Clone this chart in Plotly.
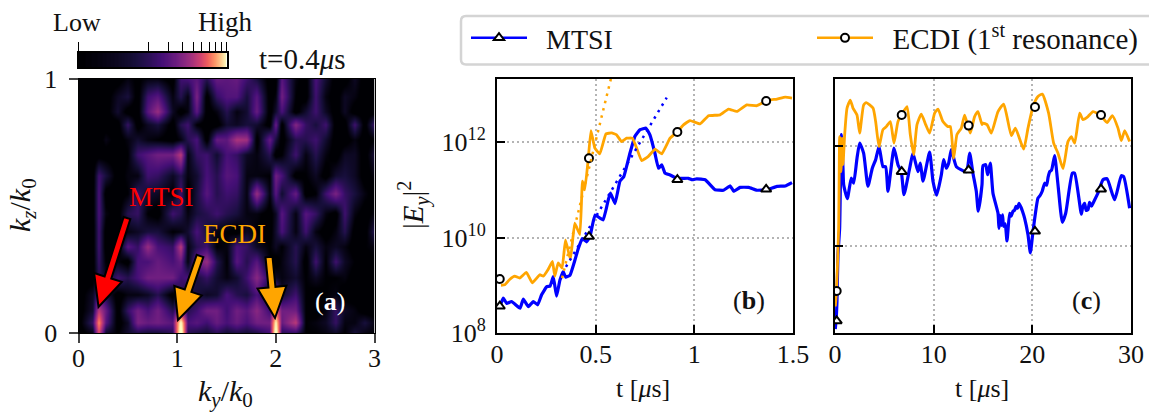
import numpy as np
import plotly.graph_objects as go

W, H = 1149, 413
FONT = "Liberation Serif"
BLUE = "#0000ff"
ORANGE = "#ffa500"
GRID = "#b4b4b4"

# ---------- panel (a) spectrum: percent of colour range, rows top to bottom ----------
ky_grid = [0,.14,.2,.27,.4,.5,.6,.7,.8,.95,1.03,1.1,1.2,1.3,1.4,1.5,1.6,1.7,1.8,1.94,2.0,2.06,2.2,2.3,2.4,2.5,2.6,2.7,2.8,2.9,3.0]
kz_grid = [1.0, .93, .87, .82, .76, .70, .62, .55, .47, .40, .34, .28, .22, .15, .09, .04, 0.0]
spec_100 = [0,0,0,0,0,5,2,5,5,0,20,22,25,15,28,26,28,20,12,0,0,25,5,0,22,10,0,0,8,0,0]
spec_093 = [0,0,0,0,8,12,0,20,25,5,15,5,32,0,18,24,24,12,25,0,5,30,3,0,20,5,0,8,5,0,0]
spec_087 = [0,0,0,0,10,0,0,25,38,8,0,5,26,0,5,15,5,10,28,0,10,22,0,10,20,8,0,8,0,0,0]
spec_082 = [0,0,0,0,0,18,0,8,12,0,15,20,3,0,0,10,8,12,10,0,28,0,34,18,12,20,0,0,20,0,20]
spec_076 = [0,0,0,6,0,5,10,5,3,0,5,15,22,0,28,26,42,40,0,28,12,0,15,15,20,10,0,0,5,0,3]
spec_070 = [0,0,0,0,0,3,20,25,30,30,45,5,18,20,10,22,18,8,5,15,0,3,20,5,15,5,0,8,8,0,12]
spec_062 = [0,0,20,12,0,5,5,20,18,8,15,5,10,22,15,25,22,5,5,3,30,22,0,3,8,0,10,12,8,0,5]
spec_055 = [0,0,22,0,0,3,18,10,8,3,20,0,12,25,15,20,18,5,38,5,25,10,28,0,3,20,32,18,12,5,0]
spec_047 = [0,0,22,5,0,15,18,3,0,20,15,5,12,15,20,15,12,5,5,0,8,25,5,25,18,5,0,20,5,0,5]
spec_040 = [0,0,20,0,0,5,8,12,12,3,5,10,22,12,5,3,0,8,3,0,10,22,5,20,5,0,5,15,0,0,15]
spec_034 = [0,0,20,0,0,25,18,38,22,18,45,5,15,20,3,5,22,18,8,3,8,3,15,5,12,5,8,5,0,3,5]
spec_028 = [0,0,18,3,5,0,22,22,28,22,28,5,28,38,15,3,25,15,25,3,0,5,15,0,20,3,20,8,3,0,3]
spec_022 = [0,0,15,8,20,15,22,30,30,30,20,22,12,18,10,5,10,20,35,15,8,5,10,3,8,3,3,5,0,0,0]
spec_015 = [0,8,22,12,0,5,5,8,15,0,15,10,12,8,10,22,15,12,22,5,35,10,20,3,0,3,5,0,0,0,0]
spec_009 = [0,10,45,28,0,18,30,22,30,15,35,15,20,30,30,20,30,25,35,20,55,30,30,3,0,5,18,8,5,0,0]
spec_004 = [0,18,65,25,0,8,32,28,30,25,90,22,25,20,28,22,28,22,30,30,85,28,45,3,5,8,18,5,5,12,5]
spec_000 = [0,5,50,8,3,10,12,10,10,15,100,15,12,10,15,10,12,10,12,20,100,15,15,3,3,5,8,3,12,5,3]
spec_rows = [spec_100, spec_093, spec_087, spec_082, spec_076, spec_070, spec_062, spec_055, spec_047,
             spec_040, spec_034, spec_028, spec_022, spec_015, spec_009, spec_004, spec_000]

# ---------- panel (b): log10 |E_y|^2 ----------
b_mtsi_t = [.010,.020,.032,.049,.074,.117,.133,.159,.184,.206,.226,.252,.269,.285,.302,.319,.336,.348,.370,.395,.412,.432,
            .454,.471,.497,.538,.564,.575,.598,.623,.643,.674,.699,.725,.755,.775,.80,.818,.835,.851,.877,.911,.945,.97,
            .99,1.012,1.055,1.105,1.148,1.182,1.199,1.232,1.275,1.317,1.368,1.419,1.461,1.495]
b_mtsi_e = [8.55,8.62,8.73,8.62,8.66,8.52,8.71,8.55,8.66,8.59,8.80,8.97,8.98,9.18,8.77,9.11,9.28,9.17,9.21,9.53,9.77,9.98,
            9.91,10.02,10.47,10.37,10.79,10.93,10.71,11.18,11.28,11.77,12.12,12.26,12.29,12.15,11.77,11.45,11.52,11.35,
            11.31,11.24,11.24,11.24,11.21,11.23,11.21,11.0,10.99,11.08,10.97,11.05,11.05,10.99,11.0,11.07,11.08,11.15]
b_ecdi_t = [.020,.039,.064,.090,.115,.149,.179,.217,.234,.259,.281,.293,.310,.330,.347,.372,.394,.420,.433,.445,.462,.476,.496,
            .521,.552,.581,.606,.631,.657,.686,.708,.733,.767,.801,.835,.877,.914,.945,.978,1.029,1.072,1.131,1.173,1.215,
            1.266,1.317,1.368,1.419,1.461,1.495]
b_ecdi_e = [9.0,9.01,9.12,9.19,9.15,9.27,9.05,9.22,9.19,9.33,9.50,9.19,9.47,9.36,9.95,9.54,10.30,10.06,11.18,11.0,11.63,12.24,
            11.87,11.75,12.17,12.19,12.15,12.01,12.08,12.08,11.87,11.61,11.70,11.85,11.75,12.08,12.21,12.36,12.45,12.38,12.55,
            12.57,12.69,12.64,12.78,12.76,12.87,12.90,12.94,12.92]
b_fit_mtsi_t = [.33, .86]
b_fit_mtsi_e = [9.25, 12.93]
b_fit_ecdi_t = [.33, .58]
b_fit_ecdi_e = [9.15, 13.37]
b_mark_t = [.014, .466, .914, 1.364]
b_mark_mtsi = [8.56, 10.02, 11.21, 11.01]
b_mark_ecdi = [9.13, 11.66, 12.21, 12.86]

# ---------- panel (c): log10 |E_y|^2 ----------
c_mtsi_t = [.03,.12,.20,.30,.47,.64,.81,.88,1.25,1.65,1.89,2.23,2.50,2.90,3.34,3.78,4.12,4.46,4.86,5.13,5.37,5.98,6.38,6.72,6.99,
            7.57,7.90,8.41,8.65,8.92,9.59,9.93,10.30,10.78,11.01,11.28,11.52,11.79,12.30,13.31,13.65,13.98,14.32,14.52,14.90,
            15.0,15.27,15.47,15.74,16.01,16.52,16.62,16.72,16.86,16.98,17.09,17.25,17.43,17.70,17.85,18.04,18.2,18.35,18.5,18.65,
            18.85,19.0,19.22,19.56,19.80,20.07,20.57,20.8,21.0,21.25,21.45,21.6,21.76,21.95,22.26,22.60,23.04,23.38,24.05,24.29,
            24.97,25.1,25.30,25.45,25.64,25.8,26.0,26.15,26.65,27.16,27.57,28.34,29.02,29.26,29.86]
c_mtsi_e = [8.35,8.55,8.9,9.83,10.36,12.23,11.56,11.23,10.95,11.36,11.26,11.76,12.06,11.86,11.20,11.56,11.73,11.99,11.59,11.59,
            11.10,11.96,11.63,11.49,11.03,11.56,11.86,11.49,11.66,11.30,11.88,11.30,11.02,11.43,11.73,11.56,11.66,11.93,11.59,
            11.49,11.86,11.46,11.10,10.70,11.23,11.61,11.63,11.43,11.66,11.06,10.66,10.36,10.62,10.42,10.63,10.40,10.45,10.11,
            10.66,10.60,10.70,10.72,10.80,10.76,10.86,10.78,10.70,10.56,10.23,9.87,10.30,10.96,11.02,11.10,11.26,11.22,11.38,
            11.49,11.52,11.81,11.23,10.48,10.66,11.46,11.46,10.64,10.78,10.86,10.72,10.73,10.88,10.80,10.86,11.06,11.33,11.35,
            10.93,11.41,11.39,10.76]
c_ecdi_t = [.03,.15,.37,.47,.61,.71,.81,.98,1.22,1.55,1.82,2.23,2.50,2.90,3.17,3.85,4.12,4.46,4.86,5.20,5.61,5.98,6.38,6.72,7.30,
            7.63,7.97,8.31,8.75,9.19,9.59,10.10,10.44,10.94,11.45,11.69,12.03,12.36,12.80,13.14,13.71,14.15,14.49,14.90,15.0,
            15.41,15.84,16.52,17.09,17.43,17.87,18.28,19.12,19.56,20.07,20.57,21.01,21.65,22.16,22.60,23.11,23.61,23.95,24.29,
            24.80,25.13,25.64,26.15,26.89,27.57,28.11,28.68,29.02,29.36,29.86]
c_ecdi_e = [8.8,9.1,10.36,12.19,11.49,12.16,11.63,12.23,12.76,12.92,12.76,12.62,12.26,12.82,12.87,12.76,12.49,11.99,12.33,12.39,
            12.49,12.06,12.49,12.62,12.79,12.23,11.83,12.43,12.64,12.43,12.26,12.66,12.74,12.49,12.39,12.39,11.76,12.23,12.36,
            12.62,12.26,12.59,12.69,12.43,12.46,12.43,12.26,12.69,12.84,12.59,12.21,12.36,11.94,12.36,12.79,12.99,13.04,12.66,
            12.06,11.86,11.55,12.09,12.19,12.06,12.66,12.53,12.59,12.69,12.62,12.47,12.61,12.36,12.11,12.31,12.09]
c_mark_t = [.17, 6.76, 13.54, 20.27, 26.96]
c_mark_mtsi = [8.51, 11.49, 11.52, 10.30, 11.14]
c_mark_ecdi = [9.11, 12.62, 12.41, 12.78, 12.62]

# ---------- labels ----------
y_tick_vals = [1e8, 1e10, 1e12]
y_tick_text = ["10<sup>8</sup>", "10<sup>10</sup>", "10<sup>12</sup>"]
cb_tick_vals = [4.7, 20, 30, 40, 50, 60, 70, 80, 90, 100]


def px(x):
    return x / W


def py(y):
    return 1 - y / H


def dom_x(a, b):
    return [px(a), px(b)]


def dom_y(top, bottom):
    return [py(bottom), py(top)]


def pw(values):
    return [10.0 ** v for v in values]


def arrow_path(tail, tip, shaft=7.0, head_w=29.0, head_l=31.0):
    tx, ty = tail
    hx, hy = tip
    d = np.hypot(hx - tx, hy - ty)
    ux, uy = (hx - tx) / d, (hy - ty) / d
    nx, ny = -uy, ux
    bx, by = hx - ux * head_l, hy - uy * head_l
    pts = [(tx + nx * shaft / 2, ty + ny * shaft / 2), (bx + nx * shaft / 2, by + ny * shaft / 2),
           (bx + nx * head_w / 2, by + ny * head_w / 2), (hx, hy),
           (bx - nx * head_w / 2, by - ny * head_w / 2), (bx - nx * shaft / 2, by - ny * shaft / 2),
           (tx - nx * shaft / 2, ty - ny * shaft / 2)]
    return "M " + " L ".join(f"{px(x):.5f} {py(y):.5f}" for x, y in pts) + " Z"


fig = go.Figure()

# panel (a)
fig.add_trace(go.Heatmap(x=ky_grid, y=kz_grid[::-1], z=spec_rows[::-1], colorscale="Magma", zmin=3, zmax=85,
                         zsmooth="best", showscale=False, xaxis="x", yaxis="y", hoverinfo="skip"))

# colour bar
cb_pos = np.linspace(100 / 10 ** 1.33, 100, 129)
cb_vals = np.linspace(0, 100, 128)
fig.add_trace(go.Heatmap(x=cb_pos.tolist(), y=[0, 1], z=[cb_vals.tolist()], colorscale="Magma", zmin=0, zmax=100,
                         showscale=False, xaxis="x4", yaxis="y4", hoverinfo="skip"))


def add_panel(xa, ya, mt, me, et, ee, mk_t, mk_m, mk_e, sm):
    fig.add_trace(go.Scatter(x=mt, y=pw(me), mode="lines",
                             line=dict(color=BLUE, width=3.2, shape="spline", smoothing=sm), showlegend=False,
                             xaxis=xa, yaxis=ya))
    fig.add_trace(go.Scatter(x=et, y=pw(ee), mode="lines",
                             line=dict(color=ORANGE, width=2.8, shape="spline", smoothing=sm), showlegend=False,
                             xaxis=xa, yaxis=ya))
    fig.add_trace(go.Scatter(x=mk_t, y=pw(mk_m), mode="markers", showlegend=False, xaxis=xa, yaxis=ya,
                             marker=dict(symbol="triangle-up", size=9, color="white",
                                         line=dict(color="black", width=2))))
    fig.add_trace(go.Scatter(x=mk_t, y=pw(mk_e), mode="markers", showlegend=False, xaxis=xa, yaxis=ya,
                             marker=dict(symbol="circle", size=8, color="white",
                                         line=dict(color="black", width=2))))


add_panel("x2", "y2", b_mtsi_t, b_mtsi_e, b_ecdi_t, b_ecdi_e, b_mark_t, b_mark_mtsi, b_mark_ecdi, 0.3)
add_panel("x3", "y3", c_mtsi_t, c_mtsi_e, c_ecdi_t, c_ecdi_e, c_mark_t, c_mark_mtsi, c_mark_ecdi, 0.5)
for t, e, col in ((b_fit_mtsi_t, b_fit_mtsi_e, BLUE), (b_fit_ecdi_t, b_fit_ecdi_e, ORANGE)):
    fig.add_trace(go.Scatter(x=t, y=pw(e), mode="lines", line=dict(color=col, width=2.5, dash="2.5px,5px"),
                             showlegend=False, xaxis="x2", yaxis="y2"))

# legend entries
fig.add_trace(go.Scatter(x=[None], y=[None], mode="lines+markers", name="\u2002MTSI", xaxis="x2", yaxis="y2",
                         legend="legend", line=dict(color=BLUE, width=2.5),
                         marker=dict(symbol="triangle-up", size=9, color="white", line=dict(color="black", width=2))))
fig.add_trace(go.Scatter(x=[None], y=[None], mode="lines+markers", name="\u2002ECDI (1<sup>st</sup> resonance)",
                         legend="legend2", xaxis="x2", yaxis="y2", line=dict(color=ORANGE, width=2.5),
                         marker=dict(symbol="circle", size=8, color="white", line=dict(color="black", width=2))))

common = dict(showline=True, linecolor="black", mirror=True, zeroline=False, automargin=False,
              tickfont=dict(family=FONT, size=26, color="#111"))
frame = dict(common, linewidth=2, ticks="inside", ticklen=8, tickwidth=1.7, tickcolor="black", showgrid=True,
             gridcolor=GRID, gridwidth=1.5, griddash="1.5px,3.5px")

legend_style = dict(orientation="h", yanchor="middle", y=py(38), xanchor="left", bgcolor="rgba(0,0,0,0)", borderwidth=0,
                    itemwidth=56, font=dict(family=FONT, size=28, color="#111"), itemclick=False, itemdoubleclick=False)

layout = dict(
    width=W, height=H, margin=dict(l=0, r=0, t=0, b=0), paper_bgcolor="white", plot_bgcolor="white",
    font=dict(family=FONT, size=26, color="#111"),
    xaxis=dict(common, domain=dom_x(78.5, 374.5), range=[0, 3], tickvals=[0, 1, 2, 3], ticktext=["0", "1", "2", "3"],
               linewidth=1, ticks="outside", ticklen=9, tickwidth=1.5, showgrid=False, anchor="y", ticklabelstandoff=-7),
    yaxis=dict(common, domain=dom_y(78.5, 333), range=[0, 1], tickvals=[0, 1], ticktext=["0", "1"],
               linewidth=1, ticks="outside", ticklen=9, tickwidth=1.5, showgrid=False, anchor="x", ticklabelstandoff=6),
    xaxis2=dict(frame, domain=dom_x(497, 793), range=[0, 1.5], tickvals=[0, 0.5, 1, 1.5],
                ticktext=["0", "0.5", "1", "1.5"], anchor="y2", ticklabelstandoff=-3),
    yaxis2=dict(frame, domain=dom_y(79, 333), type="log", range=[8, 13.32], tickvals=y_tick_vals, ticktext=y_tick_text,
                anchor="x2", ticklabelstandoff=4),
    xaxis3=dict(frame, domain=dom_x(835, 1131), range=[0, 30], tickvals=[0, 10, 20, 30],
                ticktext=["0", "10", "20", "30"], anchor="y3", ticklabelstandoff=-3),
    yaxis3=dict(frame, domain=dom_y(79, 333), type="log", range=[8.27, 13.34], tickvals=[1e10, 1e12],
                showticklabels=False, anchor="x3"),
    xaxis4=dict(domain=dom_x(78.5, 226.5), type="log", range=[2 - 1.33, 2], side="top", anchor="y4", showgrid=False,
                tickvals=cb_tick_vals, showticklabels=False, ticks="outside", ticklen=9, tickwidth=1.2, tickcolor="black",
                showline=True, linecolor="black", linewidth=1.5, mirror=True, zeroline=False),
    yaxis4=dict(domain=dom_y(53, 67), range=[0, 1], anchor="x4", showgrid=False, showticklabels=False, ticks="",
                showline=True, linecolor="black", linewidth=1.5, mirror=True, zeroline=False),
    legend=dict(legend_style, x=px(466)),
    legend2=dict(legend_style, x=px(812), font=dict(family=FONT, size=29, color="#111")),
    shapes=[
        dict(type="path", xref="paper", yref="paper", layer="below", line=dict(color="#d4d4d4", width=2.5),
             fillcolor="white",
             path=f"M {px(1175)} {py(16)} L {px(466)} {py(16)} Q {px(461)} {py(16)} {px(461)} {py(21)} "
                  f"L {px(461)} {py(59.5)} Q {px(461)} {py(64.5)} {px(466)} {py(64.5)} L {px(1175)} {py(64.5)}"),
        dict(type="path", xref="paper", yref="paper", line=dict(color="black", width=2), fillcolor="#ff0000",
             path=arrow_path((127, 218), (98.5, 307))),
        dict(type="path", xref="paper", yref="paper", line=dict(color="black", width=2), fillcolor=ORANGE,
             path=arrow_path((200, 256), (178, 320))),
        dict(type="path", xref="paper", yref="paper", line=dict(color="black", width=2), fillcolor=ORANGE,
             path=arrow_path((269, 257), (275, 318))),
    ],
    annotations=[
        dict(text=t, x=px(x), y=py(y), xref="paper", yref="paper", showarrow=False, xanchor="center", yanchor="middle",
             textangle=a, font=dict(family=FONT, size=s, color=c))
        for t, x, y, s, c, a in [
            ("Low", 77, 22, 26, "#111", 0),
            ("High", 225, 22, 27, "#111", 0),
            ("t=0.4<i>μ</i>s", 302, 59, 29, "#111", 0),
            ("MTSI", 161, 197, 27, "#ff0000", 0),
            ("ECDI", 234, 234, 27, ORANGE, 0),
            ("(<b>a</b>)", 330, 301, 26, "white", 0),
            ("(<b>b</b>)", 749, 300, 26, "#111", 0),
            ("(<b>c</b>)", 1086, 300, 26, "#111", 0),
            ("<i>k<sub>y</sub></i>/<i>k</i><sub>0</sub>", 225, 393, 30, "#111", 0),
            ("<i>k<sub>z</sub></i>/<i>k</i><sub>0</sub>", 22, 205, 30, "#111", -90),
            ("t [<i>μ</i>s]", 643, 388, 26, "#111", 0),
            ("t [<i>μ</i>s]", 982, 388, 26, "#111", 0),
            ("|<i>E<sub>y</sub></i>|<sup>2</sup>", 413, 205, 29, "#111", -90),
        ]
    ],
)
fig.update_layout(**layout)
fig.write_html("out.html", config={"displayModeBar": False},
               post_script="document.body.style.margin='0';document.body.style.overflow='hidden';")
